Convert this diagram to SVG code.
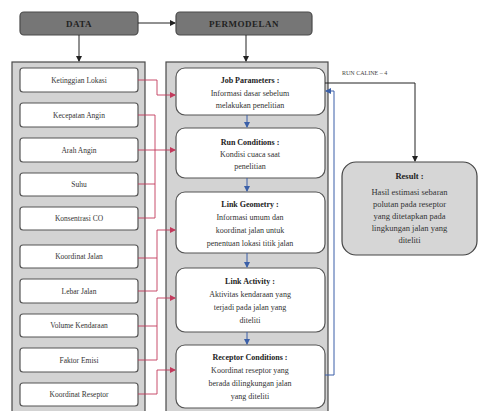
<svg xmlns="http://www.w3.org/2000/svg" width="481" height="411" viewBox="0 0 481 411">
<defs>
<marker id="ak" markerWidth="6" markerHeight="6" refX="5" refY="3" orient="auto" markerUnits="userSpaceOnUse"><path d="M0,0 L6,3 L0,6 z" fill="#222"/></marker>
<marker id="ab" markerWidth="6" markerHeight="6" refX="5" refY="3" orient="auto" markerUnits="userSpaceOnUse"><path d="M0,0 L6,3 L0,6 z" fill="#3a5fa8"/></marker>
<marker id="ar" markerWidth="6" markerHeight="6" refX="5" refY="3" orient="auto" markerUnits="userSpaceOnUse"><path d="M0,0 L6,3 L0,6 z" fill="#c23a5c"/></marker>
</defs>
<style>
.hdr{fill:#767676;stroke:#4a4a4a;stroke-width:1.2}
.ht{font-family:"Liberation Serif",serif;font-size:9px;font-weight:bold;fill:#222;text-anchor:middle;letter-spacing:0.5px}
.cont{fill:#d3d3d3;stroke:#4a4a4a;stroke-width:1.2}
.lb{fill:#fff;stroke:#555;stroke-width:1.2}
.lt{font-family:"Liberation Serif",serif;font-size:7.5px;fill:#333;text-anchor:middle}
.mb{fill:#fff;stroke:#555;stroke-width:1.2}
.mt{font-family:"Liberation Serif",serif;font-size:8px;fill:#333;text-anchor:middle}
.mt .b{font-weight:bold;fill:#222}
.rb{fill:#d6d6d6;stroke:#444;stroke-width:1.2}
.k{fill:none;stroke:#222;stroke-width:1}
.bl{fill:none;stroke:#3a5fa8;stroke-width:1}
.rd{fill:none;stroke:#c23a5c;stroke-width:0.9}
.sm{font-family:"Liberation Serif",serif;font-size:6px;fill:#444}
</style>

<g id="data"><rect class="hdr" x="20" y="12" width="118" height="23" rx="4"/><text class="ht" x="79" y="26.5">DATA</text></g>
<g id="permodelan"><rect class="hdr" x="176" y="12" width="136" height="23" rx="4"/><text class="ht" x="244" y="26.5">PERMODELAN</text></g>

<g id="data-container"><rect class="cont" x="12" y="62" width="133" height="360"/></g>
<g id="model-container"><rect class="cont" x="166" y="62" width="162" height="360"/></g>

<g id="ketinggian"><rect class="lb" x="20" y="68" width="118" height="24" rx="3"/><text class="lt" x="79" y="83">Ketinggian Lokasi</text></g>
<g id="kecepatan"><rect class="lb" x="20" y="103" width="118" height="24" rx="3"/><text class="lt" x="79" y="118">Kecepatan Angin</text></g>
<g id="arah"><rect class="lb" x="20" y="138" width="118" height="24" rx="3"/><text class="lt" x="79" y="153">Arah Angin</text></g>
<g id="suhu"><rect class="lb" x="20" y="173" width="118" height="23" rx="3"/><text class="lt" x="79" y="187">Suhu</text></g>
<g id="konsentrasi"><rect class="lb" x="20" y="207" width="118" height="23" rx="3"/><text class="lt" x="79" y="221">Konsentrasi CO</text></g>
<g id="koordinat-jalan"><rect class="lb" x="20" y="245" width="118" height="23" rx="3"/><text class="lt" x="79" y="259">Koordinat Jalan</text></g>
<g id="lebar"><rect class="lb" x="20" y="279" width="118" height="24" rx="3"/><text class="lt" x="79" y="294">Lebar Jalan</text></g>
<g id="volume"><rect class="lb" x="20" y="314" width="118" height="23" rx="3"/><text class="lt" x="79" y="328">Volume Kendaraan</text></g>
<g id="faktor"><rect class="lb" x="20" y="348" width="118" height="24" rx="3"/><text class="lt" x="79" y="363">Faktor Emisi</text></g>
<g id="koordinat-reseptor"><rect class="lb" x="20" y="383" width="118" height="23" rx="3"/><text class="lt" x="79" y="397">Koordinat Reseptor</text></g>

<g id="job"><rect class="mb" x="176" y="68" width="149" height="47" rx="9"/>
<text class="mt" x="250" y="83"><tspan class="b">Job Parameters :</tspan><tspan x="250" dy="12.5">Informasi dasar sebelum</tspan><tspan x="250" dy="12.5">melakukan penelitian</tspan></text></g>
<g id="run"><rect class="mb" x="176" y="128" width="149" height="50" rx="9"/>
<text class="mt" x="250" y="145"><tspan class="b">Run Conditions :</tspan><tspan x="250" dy="12">Kondisi cuaca saat</tspan><tspan x="250" dy="12">penelitian</tspan></text></g>
<g id="geometry"><rect class="mb" x="176" y="192" width="149" height="61" rx="9"/>
<text class="mt" x="250" y="207"><tspan class="b">Link Geometry :</tspan><tspan x="250" dy="13">Informasi umum dan</tspan><tspan x="250" dy="13">koordinat jalan untuk</tspan><tspan x="250" dy="13">penentuan lokasi titik jalan</tspan></text></g>
<g id="activity"><rect class="mb" x="176" y="268" width="149" height="64" rx="9"/>
<text class="mt" x="250" y="284"><tspan class="b">Link Activity :</tspan><tspan x="250" dy="13">Aktivitas kendaraan yang</tspan><tspan x="250" dy="13">terjadi pada jalan yang</tspan><tspan x="250" dy="13">diteliti</tspan></text></g>
<g id="receptor"><rect class="mb" x="176" y="345" width="149" height="63" rx="9"/>
<text class="mt" x="250" y="360"><tspan class="b">Receptor Conditions :</tspan><tspan x="250" dy="13">Koordinat reseptor yang</tspan><tspan x="250" dy="13">berada dilingkungan jalan</tspan><tspan x="250" dy="13">yang diteliti</tspan></text></g>

<g id="result"><rect class="rb" x="342" y="162" width="135" height="93" rx="14"/>
<text class="mt" x="409.5" y="179" style="font-size:8.5px"><tspan class="b">Result :</tspan><tspan x="409.5" dy="16">Hasil estimasi sebaran</tspan><tspan x="409.5" dy="12">polutan pada reseptor</tspan><tspan x="409.5" dy="12">yang ditetapkan pada</tspan><tspan x="409.5" dy="12">lingkungan jalan yang</tspan><tspan x="409.5" dy="12">diteliti</tspan></text></g>

<g id="connectors">
<path class="k" d="M138,23 H175" marker-end="url(#ak)"/>
<path class="k" d="M79,35 V61" marker-end="url(#ak)"/>
<path class="k" d="M246,35 V61" marker-end="url(#ak)"/>
<path class="k" d="M325,83 H415 V161" marker-end="url(#ak)"/>
<text class="sm" x="342" y="75">RUN CALINE – 4</text>
<path class="bl" d="M325,375 H334 V91 H326" marker-end="url(#ab)"/>
<path class="bl" d="M247,115 V127" marker-end="url(#ab)"/>
<path class="bl" d="M247,178 V191" marker-end="url(#ab)"/>
<path class="bl" d="M247,253 V267" marker-end="url(#ab)"/>
<path class="bl" d="M247,332 V344" marker-end="url(#ab)"/>
<path class="rd" d="M138,80 H157 V95 H175" marker-end="url(#ar)"/>
<path class="rd" d="M138,115 H155 V218 H138 M138,184 H155"/>
<path class="rd" d="M138,150 H175" marker-end="url(#ar)"/>
<path class="rd" d="M138,258 H157 V291 H138"/>
<path class="rd" d="M157,258 V230 H175" marker-end="url(#ar)"/>
<path class="rd" d="M138,326 H157 V360 H138"/>
<path class="rd" d="M157,326 V298 H175" marker-end="url(#ar)"/>
<path class="rd" d="M138,394 H157 V370 H175" marker-end="url(#ar)"/>
</g>
</svg>
